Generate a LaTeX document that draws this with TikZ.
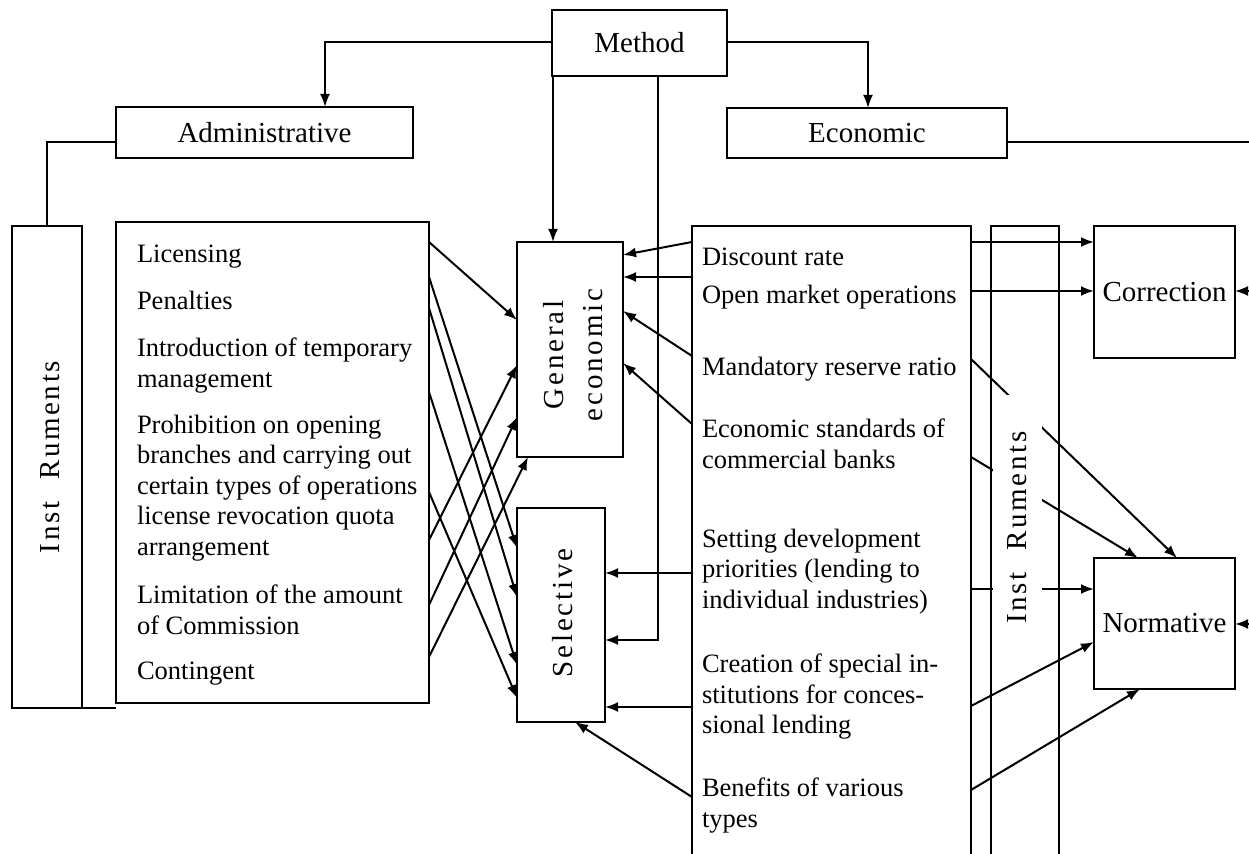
\documentclass[tikz,border=0pt]{standalone}
\usepackage{fontspec}
\setmainfont{Liberation Serif}
\usetikzlibrary{arrows.meta,calc}
\begin{document}
\begin{tikzpicture}[x=0.5pt,y=-0.5pt, line width=1pt,
  box/.style={draw, inner sep=0pt, outer sep=0pt},
  arr/.style={-{Latex[length=6.5pt,width=5pt]}},
  item/.style={anchor=north west, align=left, inner sep=0pt, font=\fontsize{13.25}{15.25}\selectfont},
  lbl/.style={font=\fontsize{14.5}{17}\selectfont},
  vlbl/.style={rotate=90, inner sep=0pt, align=center, font=\fontsize{14.5}{19.5}\selectfont\addfontfeature{LetterSpace=10}},
  inslbl/.style={rotate=90, inner sep=0pt, font=\fontsize{14.5}{17}\selectfont\addfontfeature{LetterSpace=9}}
]
\path[use as bounding box, clip] (0,0) rectangle (1249,854);

% top level boxes
\node[box, lbl, minimum width=87.5pt, minimum height=33pt] (method) at (639.5,43) {Method};
\node[box, lbl, minimum width=148.5pt, minimum height=25.5pt] (admin) at (264.5,132.5) {Administrative};
\node[box, lbl, minimum width=140pt, minimum height=25pt] (econ) at (867,133) {Economic};

% left side
\node[box, minimum width=35pt, minimum height=241pt] (instL) at (47,467) {};
\node[inslbl] (instLt) at (50,457) {Inst\hspace{11pt}Ruments};
\node[box, minimum width=156.5pt, minimum height=240.5pt] (adlist) at (272.5,462.5) {};

\node[item] (l1) at (136,244) {Licensing};
\node[item] (l2) at (136,290) {Penalties};
\node[item] (l3) at (136,337) {Introduction of temporary\\management};
\node[item] (l4) at (136,414) {Prohibition on opening\\branches and carrying out\\certain types of operations\\license revocation quota\\arrangement};
\node[item] (l5) at (136,584) {Limitation of the amount\\of Commission};
\node[item] (l6) at (136,661) {Contingent};

% middle
\node[box, minimum width=53pt, minimum height=107.5pt] (gen) at (570,349.5) {};
\node[vlbl] (gent) at (573,355) {General\\economic};
\node[box, minimum width=44pt, minimum height=107pt] (sel) at (561,615) {};
\node[vlbl] (selt) at (563,613) {Selective};

% right side
\node[box, minimum width=139.5pt, minimum height=330pt] (rlist) at (831.5,556) {};
\node[box, minimum width=34pt, minimum height=330pt] (instR) at (1025,556) {};
\node[box, lbl, minimum width=70.5pt, minimum height=66pt] (corr) at (1164.5,292) {Correction};
\node[box, lbl, minimum width=70.5pt, minimum height=65.5pt] (norm) at (1164.5,623.5) {Normative};

\node[item] (r1) at (701,247) {Discount rate};
\node[item] (r2) at (701,284) {Open market operations};
\node[item] (r3) at (701,356) {Mandatory reserve ratio};
\node[item] (r4) at (701,418) {Economic standards of\\commercial banks};
\node[item] (r5) at (701,528) {Setting development\\priorities (lending to\\individual industries)};
\node[item] (r6) at (701,653) {Creation of special in-\\stitutions for conces-\\sional lending};
\node[item] (r7) at (701,777) {Benefits of various\\types};

\coordinate (eR) at (1260,142);
\coordinate (cR) at (1260,291);
\coordinate (nR) at (1260,624);

% top connectors
\draw[arr] (method.west |- 0,42) -| (admin.north -| 325,0);
\draw[arr] (method.east |- 0,42) -| (econ.north -| 868,0);
\draw[arr] (method.south -| 553,0) -- (gen.north -| 553,0);
\draw[arr] (method.south -| 658,0) |- (sel.east |- 0,640);
\draw (admin.west |- 0,142) -| (instL.north);
\draw (econ.east |- 0,142) -- (eR);
\draw (instL.south east) -- (adlist.west |- instL.south);

% left crossing arrows
\draw[arr] (adlist.east |- 0,242) -- (gen.west |- 0,320);
\draw[arr] (adlist.east |- 0,277) -- (sel.west |- 0,548);
\draw[arr] (adlist.east |- 0,308) -- (sel.west |- 0,597);
\draw[arr] (adlist.east |- 0,392) -- (sel.west |- 0,665);
\draw[arr] (adlist.east |- 0,492) -- (sel.west |- 0,698);
\draw[arr] (adlist.east |- 0,540) -- (gen.west |- 0,365);
\draw[arr] (adlist.east |- 0,605) -- (gen.west |- 0,417);
\draw[arr] (adlist.east |- 0,657) -- (gen.south -| 528,0);

% right list to middle
\draw[arr] (rlist.west |- 0,242) -- (gen.east |- 0,255);
\draw[arr] (rlist.west |- 0,277) -- (gen.east |- 0,277);
\draw[arr] (rlist.west |- 0,356) -- (gen.east |- 0,311);
\draw[arr] (rlist.west |- 0,424) -- (gen.east |- 0,363);
\draw[arr] (rlist.west |- 0,573) -- (sel.east |- 0,573);
\draw[arr] (rlist.west |- 0,707) -- (sel.east |- 0,707);
\draw[arr] (rlist.west |- 0,797) -- (sel.south -| 575,0);

% right list to correction / normative
\draw[arr] (rlist.east |- 0,242) -- (corr.west |- 0,242);
\draw[arr] (rlist.east |- 0,291) -- (corr.west |- 0,291);
\draw[arr] (rlist.east |- 0,359) -- (norm.north -| 1177,0);
\draw[arr] (rlist.east |- 0,457) -- (norm.north -| 1138,0);
\draw[arr] (rlist.east |- 0,589) -- (norm.west |- 0,589);
\draw[arr] (rlist.east |- 0,706) -- (norm.west |- 0,642);
\draw[arr] (rlist.east |- 0,790) -- (norm.south -| 1140,0);
\draw[arr] (cR) -- (corr.east |- cR);
\draw[arr] (nR) -- (norm.east |- nR);

% label of the right instrument column, on white
\node[inslbl, fill=white, minimum width=132.5pt, minimum height=24.5pt] (instRt) at (1017.5,527.5) {Inst\hspace{11pt}Ruments};
\end{tikzpicture}
\end{document}
